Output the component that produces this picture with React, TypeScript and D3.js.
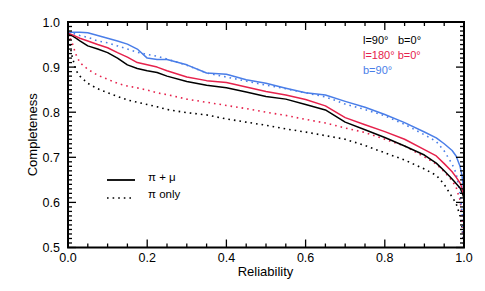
import React, { useEffect, useRef } from 'react';
import * as d3 from 'd3';

// reliability grid shared by all curves
const reliability = [0, 0.01, 0.02, 0.03, 0.05, 0.075, 0.1, 0.125, 0.15, 0.175, 0.2, 0.225, 0.25, 0.3, 0.35, 0.4, 0.45, 0.5, 0.55, 0.6, 0.65, 0.7, 0.75, 0.8, 0.85, 0.9, 0.93, 0.95, 0.97, 0.98, 0.99, 0.995, 1.0];

// completeness, pi + mu (solid)
const l90Both = [0.975, 0.970, 0.964, 0.958, 0.947, 0.940, 0.932, 0.920, 0.905, 0.897, 0.892, 0.888, 0.880, 0.868, 0.860, 0.854, 0.845, 0.835, 0.829, 0.817, 0.805, 0.778, 0.761, 0.744, 0.725, 0.705, 0.687, 0.670, 0.652, 0.642, 0.632, 0.622, 0.61];
const l180Both = [0.975, 0.972, 0.968, 0.964, 0.958, 0.950, 0.943, 0.932, 0.922, 0.910, 0.905, 0.900, 0.892, 0.878, 0.870, 0.866, 0.856, 0.846, 0.838, 0.828, 0.814, 0.788, 0.772, 0.757, 0.740, 0.717, 0.703, 0.686, 0.668, 0.656, 0.643, 0.632, 0.615];
const b90Both = [0.977, 0.977, 0.977, 0.977, 0.976, 0.970, 0.964, 0.958, 0.951, 0.940, 0.920, 0.917, 0.917, 0.905, 0.887, 0.884, 0.872, 0.864, 0.853, 0.843, 0.838, 0.824, 0.811, 0.795, 0.777, 0.756, 0.743, 0.730, 0.715, 0.703, 0.680, 0.660, 0.62];

// completeness, pi only (dotted)
const l90Pi = [0.975, 0.925, 0.893, 0.880, 0.864, 0.852, 0.843, 0.835, 0.827, 0.822, 0.817, 0.812, 0.806, 0.799, 0.794, 0.785, 0.778, 0.771, 0.763, 0.756, 0.748, 0.740, 0.726, 0.710, 0.694, 0.674, 0.660, 0.640, 0.612, 0.598, 0.57, 0.545, 0.5];
const l180Pi = [0.975, 0.955, 0.928, 0.910, 0.895, 0.882, 0.873, 0.864, 0.858, 0.854, 0.849, 0.843, 0.839, 0.829, 0.822, 0.815, 0.808, 0.800, 0.793, 0.784, 0.776, 0.765, 0.755, 0.740, 0.725, 0.701, 0.685, 0.668, 0.648, 0.634, 0.605, 0.57, 0.5];
const b90Pi = [0.975, 0.975, 0.973, 0.970, 0.966, 0.958, 0.954, 0.947, 0.940, 0.933, 0.928, 0.924, 0.918, 0.904, 0.887, 0.878, 0.869, 0.860, 0.852, 0.843, 0.834, 0.818, 0.806, 0.792, 0.773, 0.750, 0.735, 0.714, 0.685, 0.665, 0.62, 0.58, 0.5];

const xTicks = [0, 0.2, 0.4, 0.6, 0.8, 1.0];
const yTicks = [0.5, 0.6, 0.7, 0.8, 0.9, 1.0];
const fieldLabels = ['l=90°', 'l=180° b=0°', 'b=90°'];
const legendLabels = ['π + μ', 'π only'];

const BLACK = '#000000';
const RED = '#e6224c';
const BLUE = '#4a7ee8';

const App = () => {
  const svgRef = useRef(null);

  useEffect(() => {
    const W = 485, H = 291;
    const left = 68, right = 464, top = 22, bottom = 247.5;
    const font = 'Liberation Sans, Arial, Helvetica, sans-serif';

    const svg = d3.select(svgRef.current)
      .attr('width', W)
      .attr('height', H);
    svg.selectAll('*').remove();

    const x = d3.scaleLinear().domain([0, 1]).range([left, right]);
    const y = d3.scaleLinear().domain([0.5, 1]).range([bottom, top]);

    svg.append('defs').append('clipPath').attr('id', 'plotclip')
      .append('rect')
      .attr('x', left).attr('y', top)
      .attr('width', right - left).attr('height', bottom - top + 1);

    const line = d3.line()
      .x((d, i) => x(reliability[i]))
      .y(d => y(d));

    const series = [
      { values: l90Pi, color: BLACK, dotted: true },
      { values: l180Pi, color: RED, dotted: true },
      { values: b90Pi, color: BLUE, dotted: true },
      { values: l90Both, color: BLACK, dotted: false },
      { values: l180Both, color: RED, dotted: false },
      { values: b90Both, color: BLUE, dotted: false },
    ];

    const g = svg.append('g').attr('clip-path', 'url(#plotclip)');
    series.forEach(s => {
      g.append('path')
        .datum(s.values)
        .attr('fill', 'none')
        .attr('stroke', s.color)
        .attr('stroke-width', s.dotted ? 1.6 : 1.5)
        .attr('stroke-dasharray', s.dotted ? '1.6,4' : null)
        .attr('stroke-linejoin', 'round')
        .attr('d', line);
    });

    // frame
    svg.append('rect')
      .attr('x', left).attr('y', top)
      .attr('width', right - left).attr('height', bottom - top)
      .attr('fill', 'none')
      .attr('stroke', '#000')
      .attr('stroke-width', 2);

    // ticks, all pointing inward
    const ticks = svg.append('g').attr('stroke', '#000').attr('stroke-width', 1.3);
    const xMinor = d3.range(0, 1.0001, 0.05);
    const yMinor = d3.range(0.5, 1.0001, 0.01);
    xMinor.forEach(v => {
      const major = xTicks.some(t => Math.abs(t - v) < 1e-6);
      const len = major ? 8 : 4;
      ticks.append('line').attr('x1', x(v)).attr('x2', x(v)).attr('y1', bottom).attr('y2', bottom - len);
      ticks.append('line').attr('x1', x(v)).attr('x2', x(v)).attr('y1', top).attr('y2', top + len);
    });
    yMinor.forEach(v => {
      const major = yTicks.some(t => Math.abs(t - v) < 1e-6);
      const len = major ? 8 : 4;
      ticks.append('line').attr('y1', y(v)).attr('y2', y(v)).attr('x1', left).attr('x2', left + len);
      ticks.append('line').attr('y1', y(v)).attr('y2', y(v)).attr('x1', right).attr('x2', right - len);
    });

    // tick labels
    svg.append('g').selectAll('text').data(xTicks).join('text')
      .attr('x', d => x(d))
      .attr('y', 262)
      .attr('text-anchor', 'middle')
      .attr('font-family', font)
      .attr('font-size', 12.5)
      .text(d => d.toFixed(1));

    svg.append('g').selectAll('text').data(yTicks).join('text')
      .attr('x', 60)
      .attr('y', d => y(d) + 4.5)
      .attr('text-anchor', 'end')
      .attr('font-family', font)
      .attr('font-size', 12.5)
      .text(d => d.toFixed(1));

    // axis titles
    svg.append('text')
      .attr('x', 265.5).attr('y', 276)
      .attr('text-anchor', 'middle')
      .attr('font-family', font).attr('font-size', 13)
      .text('Reliability');
    svg.append('text')
      .attr('transform', `translate(37,${(top + bottom) / 2}) rotate(-90)`)
      .attr('text-anchor', 'middle')
      .attr('font-family', font).attr('font-size', 13)
      .text('Completeness');

    // field labels, top right
    const fl = svg.append('g').attr('font-family', font).attr('font-size', 11);
    fl.append('text').attr('x', 363).attr('y', 43.5).attr('fill', BLACK).text(fieldLabels[0]);
    fl.append('text').attr('x', 398).attr('y', 43.5).attr('fill', BLACK).text('b=0°');
    fl.append('text').attr('x', 363).attr('y', 58.5).attr('fill', RED).text(fieldLabels[1]);
    fl.append('text').attr('x', 363).attr('y', 73.5).attr('fill', BLUE).text(fieldLabels[2]);

    // legend
    const lg = svg.append('g');
    [0, 1].forEach(i => {
      const ly = i === 0 ? 180 : 198;
      lg.append('line')
        .attr('x1', 107).attr('x2', 135)
        .attr('y1', ly).attr('y2', ly)
        .attr('stroke', '#000')
        .attr('stroke-width', i === 0 ? 1.8 : 1.6)
        .attr('stroke-dasharray', i === 0 ? null : '1.6,4');
      lg.append('text')
        .attr('x', 148).attr('y', ly + (i === 0 ? 1 : 0))
        .attr('font-family', font).attr('font-size', 11.5)
        .text(legendLabels[i]);
    });
  }, []);

  return <svg ref={svgRef} style={{ position: 'absolute', left: 0, top: 0 }}></svg>;
};

export default App;
